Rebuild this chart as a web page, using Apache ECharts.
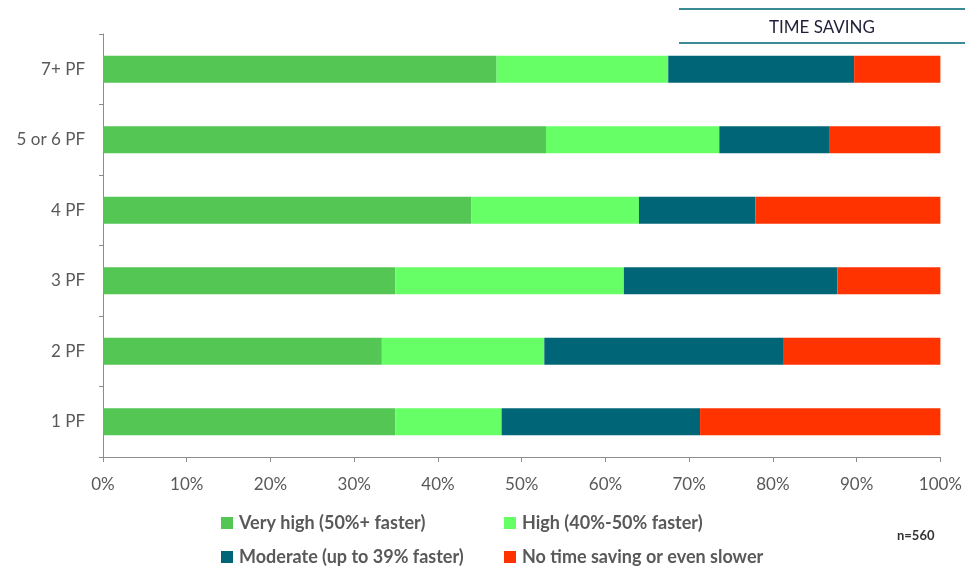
<!DOCTYPE html>
<html><head><meta charset="utf-8">
<script src="https://cdn.jsdelivr.net/npm/echarts@6/dist/echarts.min.js"></script>
<style>html,body{margin:0;padding:0;background:#fff}#c{width:965px;height:566px}</style>
</head><body><div id="c"></div>
<script>
const categories = ['7+ PF', '5 or 6 PF', '4 PF', '3 PF', '2 PF', '1 PF'];
const seriesNames = ['Very high (50%+ faster)', 'High (40%-50% faster)', 'Moderate (up to 39% faster)', 'No time saving or even slower'];
const veryHigh = [47.0, 52.9, 44.0, 34.9, 33.3, 34.9];
const high = [20.5, 20.7, 20.0, 27.3, 19.4, 12.7];
const moderate = [22.2, 13.1, 13.9, 25.5, 28.6, 23.7];
const noSaving = [10.3, 13.3, 22.1, 12.3, 18.7, 28.7];
const xTicks = [0, 10, 20, 30, 40, 50, 60, 70, 80, 90, 100];
const colors = ['#53C653', '#66FF66', '#006677', '#FF3300'];
const values = [veryHigh, high, moderate, noSaving];

const font = 'Lato, "Open Sans", sans-serif';
const chart = echarts.init(document.getElementById('c'), null, {renderer: 'canvas'});
const legendPos = [[216, 509], [499, 509], [216, 543], [499, 543]];
chart.setOption({
  animation: false,
  grid: {left: 103, right: 22.5, top: 34, bottom: 109},
  xAxis: {
    type: 'value', min: xTicks[0], max: xTicks[xTicks.length - 1], interval: 10,
    axisLine: {show: true, lineStyle: {color: '#8c8c8c', width: 1}},
    axisTick: {show: true, length: 5, lineStyle: {color: '#8c8c8c'}},
    splitLine: {show: false},
    axisLabel: {formatter: v => v + '%', color: '#595959', fontFamily: font, fontSize: 17, margin: 19}
  },
  yAxis: {
    type: 'category', data: categories, inverse: true,
    axisLine: {show: true, lineStyle: {color: '#8c8c8c', width: 1}},
    axisTick: {show: true, length: 4, lineStyle: {color: '#8c8c8c'}},
    axisLabel: {color: '#595959', fontFamily: font, fontSize: 17, margin: 18}
  },
  legend: seriesNames.map((n, i) => ({
    data: [n], left: legendPos[i][0], top: legendPos[i][1], orient: 'horizontal',
    itemWidth: 12, itemHeight: 12, icon: 'rect', selectedMode: false,
    textStyle: {color: '#595959', fontFamily: font, fontSize: 18, fontWeight: 'bold', padding: [0, 0, 0, 1]}
  })),
  series: seriesNames.map((n, i) => ({
    name: n, type: 'bar', stack: 'total', barWidth: 27,
    itemStyle: {color: colors[i]},
    data: values[i]
  })),
  graphic: [
    {type: 'line', shape: {x1: 679, y1: 9, x2: 965, y2: 9}, style: {stroke: '#3b8b96', lineWidth: 2}},
    {type: 'line', shape: {x1: 679, y1: 43, x2: 965, y2: 43}, style: {stroke: '#3b8b96', lineWidth: 2}},
    {type: 'text', x: 822, y: 28, style: {text: 'TIME SAVING', fill: '#1f1f3a', font: '17px ' + font, textAlign: 'center', textVerticalAlign: 'middle'}},
    {type: 'text', x: 897, y: 536, style: {text: 'n=560', fill: '#333333', font: 'bold 13px ' + font, textAlign: 'left', textVerticalAlign: 'middle'}}
  ]
});
</script></body></html>
